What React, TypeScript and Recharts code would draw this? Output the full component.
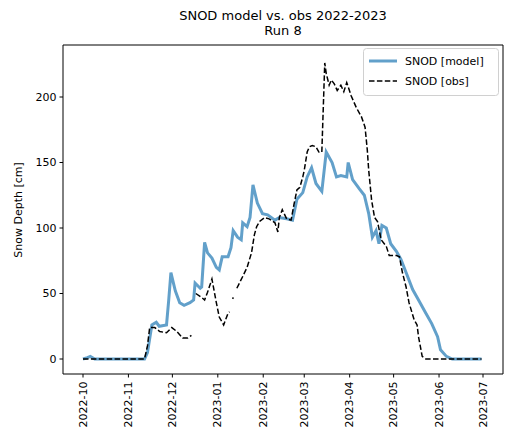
import { LineChart, Line, XAxis, YAxis, ReferenceArea } from "recharts";

// days since 2022-10-01
const monthTicks = [0, 31, 61, 92, 123, 151, 182, 212, 243, 273];
const monthLabels = ["2022-10", "2022-11", "2022-12", "2023-01", "2023-02", "2023-03", "2023-04", "2023-05", "2023-06", "2023-07"];
const yTicks = [0, 50, 100, 150, 200];

const modelDays = [
  0, 3, 5, 8, 42, 44, 47, 50, 52, 57, 58.5, 60, 63, 66, 69, 73, 75.5, 76.5, 80, 81, 83, 85, 88, 91, 93, 95, 99, 101,
  102.5, 105.5, 108, 109, 112, 114, 116, 119, 122.5, 126, 131, 134, 139, 143, 146, 150, 153, 156, 159, 163, 166,
  170, 173, 176, 180, 181, 184, 188.5, 192, 195, 197.5, 200, 202, 204, 207, 210, 214, 217, 220.5, 225, 229, 234,
  238, 242, 244, 248, 252, 272,
];
const modelValues = [
  0, 1, 2, 0, 0, 5, 26, 28, 25, 26, 45, 66, 52, 43, 41, 43, 45, 58, 54, 55, 89, 81, 77, 70, 68, 78, 78, 85,
  98, 93, 91, 104, 101, 108, 133, 119, 111, 110, 106, 108, 107, 106, 122, 127, 139, 146, 134, 128, 158,
  150, 139, 140, 139, 150, 137, 130, 125, 111, 93, 98, 88, 102, 100, 88, 82, 76, 66, 53, 45, 35,
  27, 17, 7, 2, 0, 0,
];

const obsDays = [
  0, 42, 44, 45.5, 49, 52.4, 57, 60.6, 64, 68, 71.5, 74, 75.5, 77, 81, 83, 85, 88, 89, 91, 93, 96, 99, 100, 101,
  102, 102.7, 104, 105, 109, 112, 115, 117, 118.5, 120.5, 124, 127, 131, 133, 134, 136, 139, 142, 144, 146, 148,
  150, 151, 153, 154.5, 156.5, 159, 161, 163, 165, 166, 168, 169.5, 171.5, 173.5, 176, 178, 180, 183, 186.5, 190,
  192.5, 194, 195, 197, 199, 201, 203.5, 207, 209, 214, 216, 218, 220.5, 222.5, 226, 228, 229, 231.5, 234, 272,
];
const obsValues = [
  0, 0, 10, 24, 24, 21, 20, 24, 21, 16, 16, 18, null, 50, 47, 45, 51, 61, 55, 43, 32, 26, 35, 36, null,
  46, 47, null, 54, 63, 70, 81, 95, 101, 105, 108, 107, 104, 97, 108, 114, 107, 106, 118, 129, 131,
  139, 144, 158, 162, 163, 162, 158, 158, 226, 218, 209, 213, 210, 205, 209, 204, 211, 201, 192, 185,
  177, 160, 144, 121, 108, 105, 91, 86, 79, 79, 78, 66, 55, 43, 30, 26, 17, 2, 0, 0,
];

const modelData = modelDays.map((d, i) => ({ day: d, v: modelValues[i] }));
const obsData = obsDays.map((d, i) => ({ day: d, v: obsValues[i] }));

const FONT = "DejaVu Sans, sans-serif";
const MODEL_COLOR = "#62a0ca";
const X_DOMAIN = [-13.65, 286.65];
const Y_DOMAIN = [-11.45, 239.7];

function XTick(props: any) {
  const { x, y, payload } = props;
  const label = monthLabels[monthTicks.indexOf(payload.value)];
  return (
    <text
      transform={`translate(${x},${y + 1}) rotate(-90)`}
      textAnchor="end"
      dominantBaseline="central"
      fontSize={11}
      fontFamily={FONT}
      fill="#000"
    >
      {label}
    </text>
  );
}

function LegendBox() {
  return (
    <svg width={136} height={48} style={{ display: "block" }}>
      <rect x={0.5} y={0.5} width={135} height={47} rx={3} fill="#fff" fillOpacity={0.8} stroke="#d0d0d0" />
      <line x1={6} y1={13} x2={34} y2={13} stroke={MODEL_COLOR} strokeWidth={3} />
      <text x={42} y={13} dominantBaseline="central" fontSize={11} fontFamily={FONT}>SNOD [model]</text>
      <line x1={6} y1={33} x2={34} y2={33} stroke="#000" strokeWidth={1.5} strokeDasharray="5.5 2.4" />
      <text x={42} y={33} dominantBaseline="central" fontSize={11} fontFamily={FONT}>SNOD [obs]</text>
    </svg>
  );
}

export default function App() {
  return (
    <div style={{ position: "absolute", left: 0, top: 0, width: 505, height: 439, background: "#fff", fontFamily: FONT }}>
      <div style={{ position: "absolute", left: 83, width: 400, top: 8, textAlign: "center", fontSize: 13, lineHeight: "15px" }}>
        SNOD model vs. obs 2022-2023
        <br />
        Run 8
      </div>
      <div
        style={{
          position: "absolute",
          left: 18,
          top: 210,
          transform: "translate(-50%, -50%) rotate(-90deg)",
          fontSize: 11,
          whiteSpace: "nowrap",
        }}
      >
        Snow Depth [cm]
      </div>
      <LineChart width={505} height={439} margin={{ top: 45, right: 2, bottom: 0, left: 0 }}>
        <XAxis
          dataKey="day"
          type="number"
          domain={X_DOMAIN}
          ticks={monthTicks}
          allowDataOverflow
          height={65}
          tick={<XTick />}
          tickSize={3.5}
          tickMargin={3}
          axisLine={false}
          tickLine={{ stroke: "#000" }}
          interval={0}
        />
        <YAxis
          type="number"
          domain={Y_DOMAIN}
          ticks={yTicks}
          allowDataOverflow
          width={63}
          tickSize={3.5}
          tickMargin={3}
          axisLine={false}
          tickLine={{ stroke: "#000" }}
          tick={{ fontSize: 11, fontFamily: FONT, fill: "#000" }}
        />
        <ReferenceArea
          x1={X_DOMAIN[0]}
          x2={X_DOMAIN[1]}
          y1={Y_DOMAIN[0]}
          y2={Y_DOMAIN[1]}
          fill="none"
          stroke="#000"
          strokeWidth={1}
          ifOverflow="visible"
        />
        <Line
          data={modelData}
          dataKey="v"
          type="linear"
          stroke={MODEL_COLOR}
          strokeWidth={3}
          dot={false}
          isAnimationActive={false}
          name="SNOD [model]"
        />
        <Line
          data={obsData}
          dataKey="v"
          type="linear"
          stroke="#000"
          strokeWidth={1.5}
          strokeDasharray="5.5 2.4"
          dot={false}
          isAnimationActive={false}
          name="SNOD [obs]"
        />
      </LineChart>
      <div style={{ position: "absolute", left: 363, top: 48 }}>
        <LegendBox />
      </div>
    </div>
  );
}
